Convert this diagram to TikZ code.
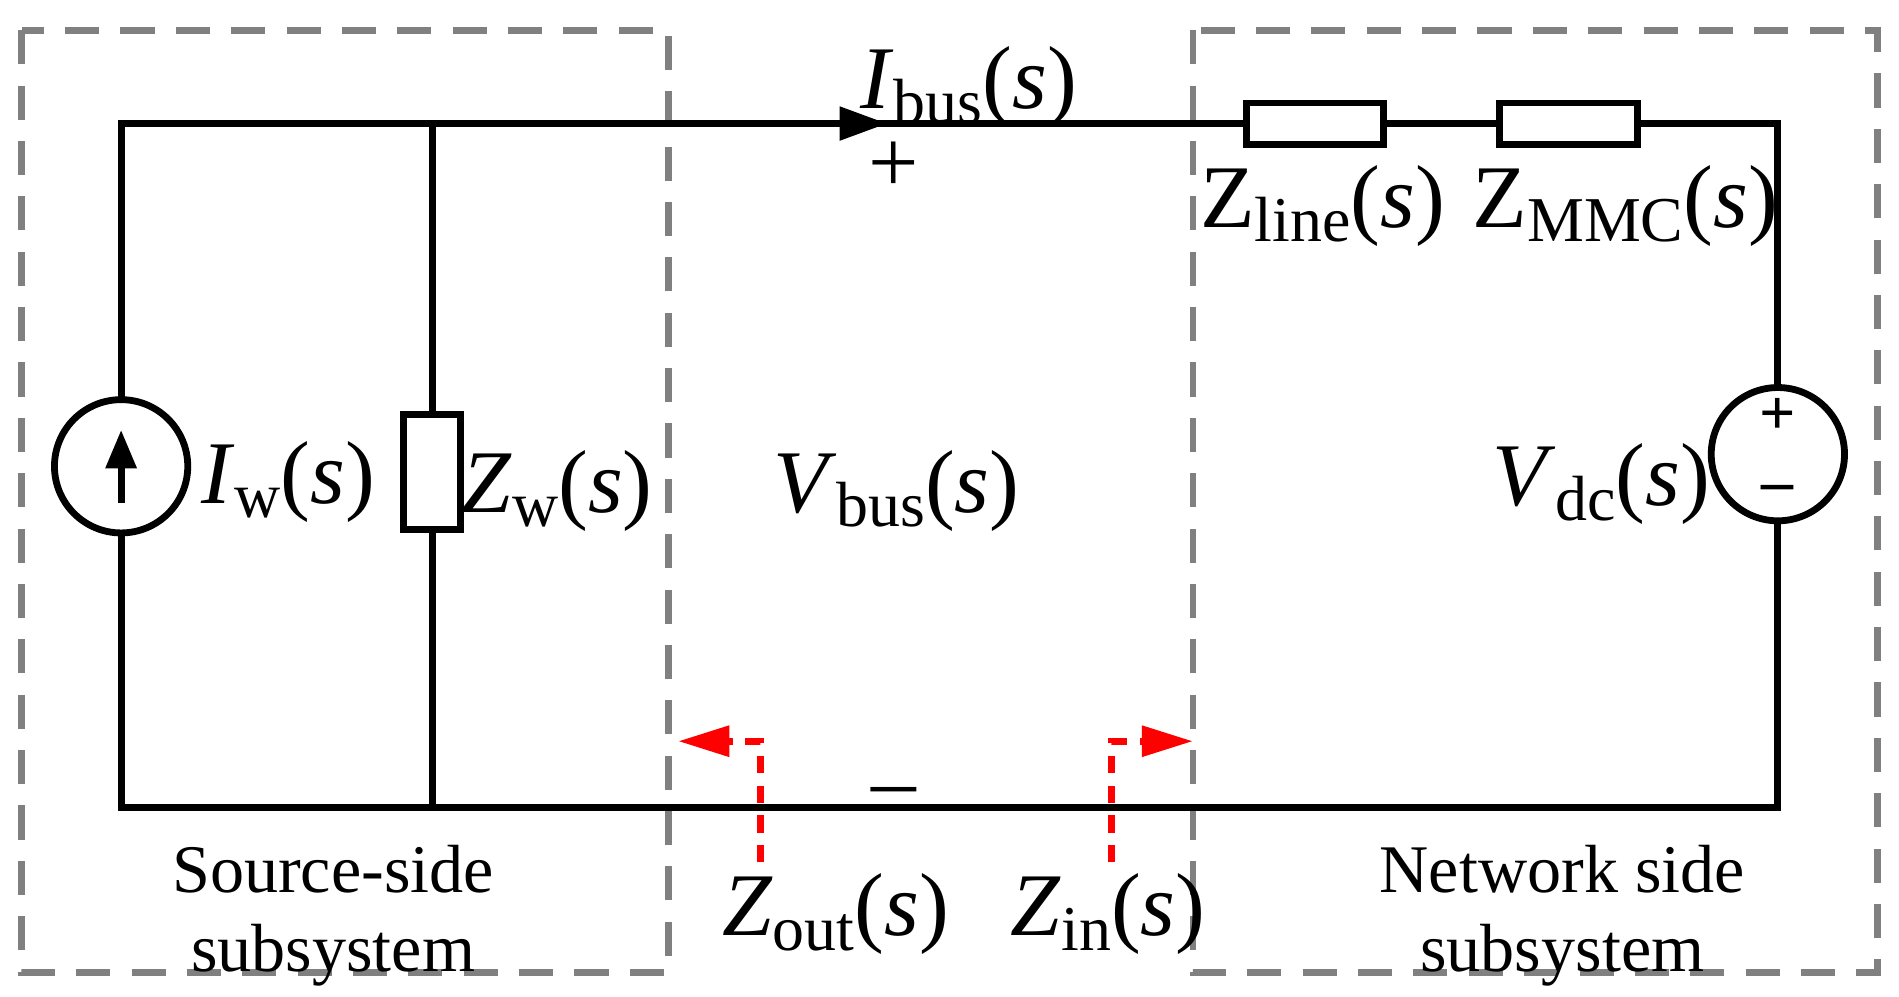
\documentclass[tikz,border=0pt]{standalone}
\usepackage{fontspec}
\setmainfont{Liberation Serif}
\usetikzlibrary{arrows.meta}
\newcommand{\qlab}[2]{#1\raisebox{-0.35ex}{\fontsize{15}{15}\selectfont #2}(\textit{s})}
\begin{document}
\begin{tikzpicture}[x=0.01cm,y=-0.01cm,
  wire/.style={line width=1.6pt},
  box/.style={draw=gray,line width=1.6pt,dash pattern=on 8pt off 5pt},
  res/.style={draw,line width=1.6pt,fill=white},
  lbl/.style={font=\fontsize{21}{21}\selectfont,inner sep=0pt},
  txt/.style={font=\fontsize{16}{18.5}\selectfont,align=center,inner sep=0pt},
  rd/.style={red,line width=1.6pt,dash pattern=on 4pt off 3pt,-{Triangle[length=12pt,width=7pt]}}]
\useasboundingbox (0,0) rectangle (1568,823);
\draw[box] (18,25) rectangle (552,803);
\draw[box] (985,25) rectangle (1550,803);
\coordinate (tl) at (100,102); \coordinate (tr) at (1468,102);
\coordinate (bl) at (100,667); \coordinate (br) at (1468,667);
\coordinate (zt) at (357,102); \coordinate (zb) at (357,667);
\draw[wire] (tl) -- (tr) -- (br) -- (bl) -- cycle;
\draw[wire] (zt) -- (zb);
\node[res,minimum width=0.47cm,minimum height=0.95cm] (zw) at (357,390) {};
\node[res,minimum width=1.13cm,minimum height=0.34cm] (zl) at (1086,102) {};
\node[res,minimum width=1.14cm,minimum height=0.34cm] (zm) at (1295,102) {};
\node[circle,draw,fill=white,line width=1.6pt,minimum size=1.1cm] (is) at (100,385) {};
\draw[line width=1.6pt,-{Triangle[length=9pt,width=7pt]}] (100,415) -- (100,355);
\node[circle,draw,fill=white,line width=1.6pt,minimum size=1.1cm] (vs) at (1468,375) {};
\node[font=\fontsize{15}{15}\selectfont\bfseries,inner sep=0pt] at (1468,344) {+};
\node[font=\fontsize{15}{15}\selectfont\bfseries,inner sep=0pt] at (1468,408) {--};
\draw[-{Triangle[length=11pt,width=8pt]}] (680,102) -- (732,102);
\node[lbl] at (800,72) {\qlab{\textit{I}}{bus}};
\node[lbl] at (738,138) {+};
\node[lbl] at (738,660) {--};
\node[lbl] at (740,405) {\qlab{\textit{V}}{bus}};
\node[lbl] at (238,398) {\qlab{\textit{I}}{w}};
\node[lbl] at (460,405) {\qlab{\textit{Z}}{w}};
\node[lbl] at (1322,400) {\qlab{\textit{V}}{dc}};
\node[lbl] at (1092,170) {\qlab{Z}{line}};
\node[lbl] at (1342,170) {\qlab{Z}{MMC}};
\node[lbl] at (690,755) {\qlab{\textit{Z}}{out}};
\node[lbl] at (915,755) {\qlab{\textit{Z}}{in}};
\coordinate (a1) at (628,712); \coordinate (a2) at (628,612); \coordinate (a3) at (560,612);
\coordinate (b1) at (918,712); \coordinate (b2) at (918,612); \coordinate (b3) at (985,612);
\draw[rd] (a1) -- (a2) -- (a3);
\draw[rd] (b1) -- (b2) -- (b3);
\node[txt] at (275,756) {Source-side\\subsystem};
\node[txt] at (1290,756) {Network side\\subsystem};
\end{tikzpicture}
\end{document}
